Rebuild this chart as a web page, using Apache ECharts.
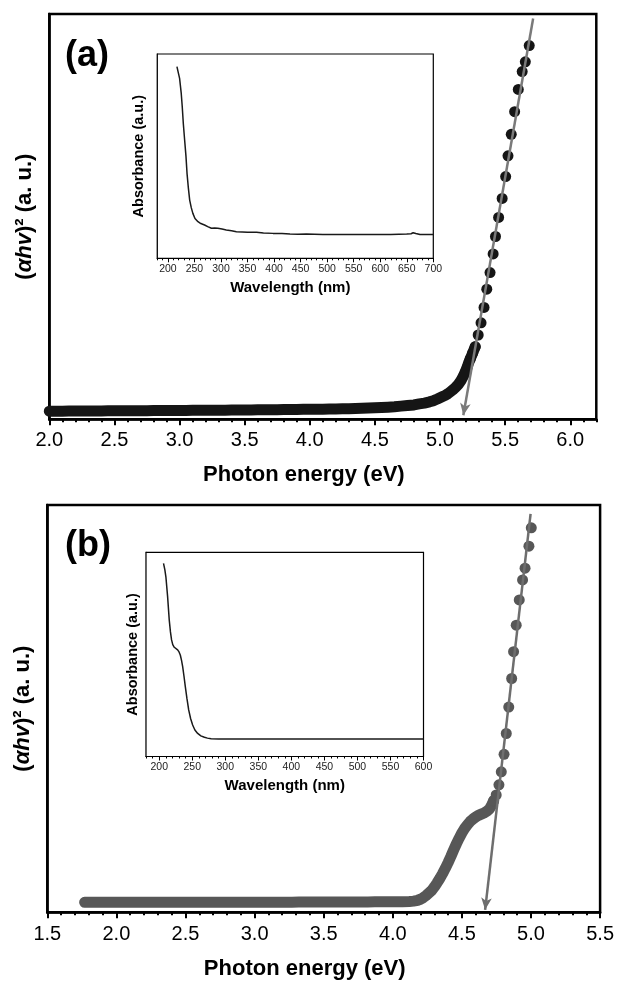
<!DOCTYPE html>
<html><head><meta charset="utf-8">
<script src="https://cdn.jsdelivr.net/npm/echarts@6/dist/echarts.min.js"></script>
<style>html,body{margin:0;padding:0;background:#fff}#c{width:617px;height:982px}</style>
</head><body><div id="c"></div>
<script>
const FONT = '"Liberation Sans", Arial, Helvetica, sans-serif';

// ---------- Panel (a) main: (alpha h v)^2 vs photon energy ----------
// dense (overlapping) part of the data
const bandEnergyA = [2.00,2.05,2.10,2.15,2.20,2.25,2.30,2.35,2.40,2.45,2.50,2.55,2.60,2.65,2.70,2.75,2.80,2.85,2.90,2.95,
  3.00,3.05,3.10,3.15,3.20,3.25,3.30,3.35,3.40,3.45,3.50,3.55,3.60,3.65,3.70,3.75,3.80,3.85,3.90,3.95,
  4.00,4.05,4.10,4.15,4.20,4.25,4.30,4.35,4.40,4.45,4.50,4.55,4.60,4.65,4.70,4.75,4.80,4.84,4.88,4.92,
  4.95,4.98,5.00,5.02,5.04,5.06,5.08,5.10,5.12,5.14,5.16,5.18,5.195,5.21,5.22,5.232,5.25,5.27];
const bandValueA = [2.00,2.00,2.01,2.02,2.03,2.04,2.05,2.06,2.07,2.08,2.09,2.10,2.11,2.12,2.13,2.14,2.15,2.16,2.17,2.18,
  2.19,2.20,2.21,2.22,2.23,2.24,2.25,2.26,2.27,2.28,2.30,2.31,2.33,2.34,2.36,2.37,2.39,2.41,2.43,2.45,
  2.47,2.49,2.51,2.54,2.57,2.60,2.63,2.67,2.71,2.76,2.82,2.90,3.00,3.10,3.25,3.40,3.55,3.80,4.00,4.30,
  4.60,5.00,5.30,5.60,5.90,6.30,6.80,7.30,7.90,8.60,9.50,10.7,11.8,13.0,14.0,14.9,16.3,17.9];
// separated dots along the absorption edge
const dotEnergyA = [5.232,5.25,5.27,5.293,5.315,5.338,5.359,5.384,5.408,5.426,5.450,5.477,5.504,5.522,5.547,5.573,5.601,5.631,5.655,5.685];
const dotValueA = [14.9,16.3,17.9,20.8,23.8,27.6,32.1,36.2,40.8,45.1,49.8,54.5,59.9,65.0,70.3,75.9,81.4,85.8,88.2,92.2];
const fitA_E = [5.715, 5.179];
const fitA_V = [98.9, 1.0];

// ---------- Panel (a) inset: absorbance vs wavelength ----------
const wlA = [217,219,222,225,227,229,231.5,234,236,238.5,241,244,247,251,256.6,262,269,275,282,288,294,302,310,320,329,
  340,350,367,380,398,415,430,445,461,476,492,508,524,555,587,620,650,658,662,667,675,690,700];
const absA = [0.938,0.915,0.881,0.81,0.742,0.66,0.579,0.50,0.416,0.345,0.285,0.248,0.220,0.195,0.179,0.170,0.163,0.155,
  0.147,0.148,0.147,0.143,0.139,0.135,0.130,0.129,0.127,0.127,0.124,0.122,0.121,0.119,0.118,0.119,0.118,0.116,0.117,
  0.116,0.117,0.117,0.117,0.119,0.120,0.125,0.121,0.116,0.117,0.117];

// ---------- Panel (b) main ----------
const bandEnergyB = [1.77,1.82,1.87,1.92,1.97,2.02,2.07,2.12,2.17,2.22,2.27,2.32,2.37,2.42,2.47,2.52,2.57,2.62,2.67,2.72,
  2.77,2.82,2.87,2.92,2.97,3.02,3.07,3.12,3.17,3.22,3.27,3.32,3.37,3.42,3.47,3.52,3.57,3.62,3.67,3.72,
  3.77,3.82,3.87,3.92,3.97,4.02,4.07,4.12,4.15,4.18,4.20,4.22,4.24,4.26,4.28,4.30,4.32,4.34,4.36,4.38,
  4.40,4.42,4.44,4.46,4.48,4.50,4.52,4.54,4.56,4.58,4.60,4.62,4.64,4.66,4.68,4.70,4.715,4.73];
const bandValueB = [2.45,2.45,2.45,2.45,2.45,2.45,2.45,2.45,2.45,2.45,2.45,2.45,2.45,2.45,2.45,2.45,2.46,2.46,2.46,2.46,
  2.46,2.46,2.47,2.47,2.47,2.47,2.48,2.48,2.48,2.49,2.49,2.50,2.50,2.50,2.51,2.51,2.52,2.52,2.53,2.53,
  2.54,2.55,2.56,2.57,2.58,2.60,2.62,2.65,2.75,2.95,3.20,3.60,4.10,4.70,5.30,6.20,7.20,8.30,9.50,10.8,
  12.2,13.7,15.3,16.8,18.2,19.5,20.6,21.5,22.3,22.9,23.4,23.8,24.1,24.4,24.8,25.4,26.3,27.4];
const dotEnergyB = [4.73,4.748,4.768,4.785,4.805,4.821,4.839,4.860,4.874,4.893,4.915,4.939,4.957,4.985,5.002];
const dotValueB = [27.4,28.8,31.3,34.5,38.8,43.9,50.4,57.4,64.0,70.5,76.7,81.6,84.5,89.9,94.4];
const fitB_E = [4.997, 4.668];
const fitB_V = [97.8, 0.6];

// ---------- Panel (b) inset ----------
const wlB = [206.5,208.5,210.1,212.7,215.2,217,218.7,220.5,222.8,225,227.9,230,231.9,233.7,235.5,237.5,239.5,242,244.6,
  247.5,250.6,254,258.2,263,268.4,273,278.6,290,306,350,400,450,500,550,600];
const absB = [0.946,0.915,0.880,0.783,0.668,0.61,0.571,0.548,0.535,0.528,0.522,0.512,0.497,0.472,0.440,0.393,0.342,
  0.283,0.228,0.186,0.154,0.130,0.113,0.101,0.094,0.090,0.087,0.086,0.086,0.086,0.086,0.086,0.086,0.086,0.086];

// ---------- tick labels ----------
const ticksA = [2.0,2.5,3.0,3.5,4.0,4.5,5.0,5.5,6.0];
const ticksB = [1.5,2.0,2.5,3.0,3.5,4.0,4.5,5.0,5.5];
const ticksInsetA = [200,250,300,350,400,450,500,550,600,650,700];
const ticksInsetB = [200,250,300,350,400,450,500,550,600];

const zip = (xs, ys) => xs.map((x, i) => [x, ys[i]]);

function majorX(grid, min, max, ticks, o) {
  return {
    type: 'value', gridIndex: grid, min: min, max: max, position: 'bottom',
    axisLine: {show: true, onZero: false, lineStyle: {color: '#000', width: o.lw}},
    axisTick: {show: true, inside: false, length: o.tl, lineStyle: {color: '#000', width: o.tw}, customValues: ticks},
    axisLabel: {show: true, customValues: ticks, margin: o.margin, fontFamily: FONT, fontSize: o.fs, color: o.lc,
      formatter: v => o.dec ? v.toFixed(1) : String(Math.round(v))},
    splitLine: {show: false},
    name: o.name, nameLocation: 'middle', nameGap: o.nameGap,
    nameTextStyle: {fontFamily: FONT, fontSize: o.nfs, fontWeight: 'bold', color: '#000', padding: o.npad || 0}
  };
}
function minorX(grid, min, max, step, o) {
  return {
    type: 'value', gridIndex: grid, min: min, max: max, interval: step, position: 'bottom',
    axisLine: {show: false, onZero: false},
    axisTick: {show: true, inside: false, length: o.tl, lineStyle: {color: '#000', width: o.tw}},
    axisLabel: {show: false}, splitLine: {show: false}
  };
}
function yAx(grid, o) {
  return {
    type: 'value', gridIndex: grid, min: 0, max: 100,
    axisLine: {show: true, lineStyle: {color: '#000', width: o.lw}},
    axisTick: {show: false}, axisLabel: {show: false}, splitLine: {show: false},
    name: o.name, nameLocation: 'middle', nameGap: o.nameGap,
    nameTextStyle: o.nts
  };
}

const yMainName = {
  fontFamily: FONT, fontSize: 22, fontWeight: 'bold', color: '#000',
  rich: {i: {fontFamily: FONT, fontSize: 22, fontWeight: 'bold', fontStyle: 'italic', color: '#000'}}
};
const yInsetName = {fontFamily: FONT, fontSize: 14.5, fontWeight: 'bold', color: '#000'};

function bandLine(xi, yi, e, v, color) {
  return {type: 'line', xAxisIndex: xi, yAxisIndex: yi, data: zip(e, v), symbol: 'none', showSymbol: false,
    lineStyle: {color: color, width: 11, cap: 'round', join: 'round'}, silent: true, z: 2};
}
function dots(xi, yi, e, v, color) {
  return {type: 'scatter', xAxisIndex: xi, yAxisIndex: yi, data: zip(e, v), symbolSize: 11,
    itemStyle: {color: color, opacity: 1}, silent: true, z: 3};
}
function fitArrow(xi, yi, e, v, color) {
  return {type: 'scatter', xAxisIndex: xi, yAxisIndex: yi, data: [], silent: true, z: 4,
    markLine: {silent: true, animation: false, symbol: ['none', 'arrow'], symbolSize: [8, 12],
      label: {show: false}, lineStyle: {color: color, width: 2.5, type: 'solid', opacity: 1},
      data: [[{coord: [e[0], v[0]]}, {coord: [e[1], v[1]]}]]}};
}
function insetLine(xi, yi, wl, ab) {
  return {type: 'line', xAxisIndex: xi, yAxisIndex: yi, data: zip(wl, ab.map(v => v * 100)), showSymbol: false, symbol: 'none',
    lineStyle: {color: '#1a1a1a', width: 1.5}, silent: true, z: 5};
}

const option = {
  animation: false,
  backgroundColor: '#fff',
  grid: [
    {left: 49.3, top: 14, width: 547, height: 405.3, show: true, borderColor: '#000', borderWidth: 2.5, backgroundColor: 'transparent'},
    {left: 157.3, top: 54, width: 276, height: 204.3, show: true, borderColor: '#000', borderWidth: 1.2, backgroundColor: '#fff', z: 3},
    {left: 47.3, top: 505, width: 553, height: 407.3, show: true, borderColor: '#000', borderWidth: 2.5, backgroundColor: 'transparent'},
    {left: 146, top: 552.3, width: 277.5, height: 204.2, show: true, borderColor: '#000', borderWidth: 1.2, backgroundColor: '#fff', z: 3}
  ],
  xAxis: [
    majorX(0, 2.0, 6.2, ticksA, {lw: 2.5, tl: 6, tw: 2, margin: 11, fs: 20, lc: '#000', dec: true,
      name: 'Photon energy (eV)', nameGap: 45, nfs: 22, npad: [0, 38, 0, 0]}),
    minorX(0, 2.0, 6.2, 0.1, {tl: 3, tw: 2}),
    majorX(1, 180, 700, ticksInsetA, {lw: 1.2, tl: 4, tw: 1, margin: 5, fs: 10.5, lc: '#222', dec: false,
      name: 'Wavelength (nm)', nameGap: 22, nfs: 15, npad: [0, 10, 0, 0]}),
    minorX(1, 180, 700, 10, {tl: 2, tw: 1}),
    majorX(2, 1.5, 5.5, ticksB, {lw: 2.5, tl: 6, tw: 2, margin: 12, fs: 20, lc: '#000', dec: true,
      name: 'Photon energy (eV)', nameGap: 46, nfs: 22, npad: [0, 38, 0, 0]}),
    minorX(2, 1.5, 5.5, 0.1, {tl: 3, tw: 2}),
    majorX(3, 180, 600, ticksInsetB, {lw: 1.2, tl: 4, tw: 1, margin: 5, fs: 10.5, lc: '#222', dec: false,
      name: 'Wavelength (nm)', nameGap: 22, nfs: 15}),
    minorX(3, 180, 600, 10, {tl: 2, tw: 1})
  ],
  yAxis: [
    yAx(0, {lw: 2.5, name: '({i|αhv})² (a. u.)', nameGap: 13, nts: yMainName}),
    yAx(1, {lw: 1.2, name: 'Absorbance (a.u.)', nameGap: 11, nts: yInsetName}),
    yAx(2, {lw: 2.5, name: '({i|αhv})² (a. u.)', nameGap: 13, nts: yMainName}),
    yAx(3, {lw: 1.2, name: 'Absorbance (a.u.)', nameGap: 6, nts: yInsetName})
  ],
  series: [
    bandLine(0, 0, bandEnergyA, bandValueA, '#151515'),
    dots(0, 0, dotEnergyA, dotValueA, '#151515'),
    fitArrow(0, 0, fitA_E, fitA_V, '#7a7a7a'),
    insetLine(2, 1, wlA, absA),
    bandLine(4, 2, bandEnergyB, bandValueB, '#575757'),
    dots(4, 2, dotEnergyB, dotValueB, '#575757'),
    fitArrow(4, 2, fitB_E, fitB_V, '#6e6e6e'),
    insetLine(6, 3, wlB, absB)
  ],
  graphic: [
    {type: 'text', x: 65, y: 56.5, style: {text: '(a)', font: 'bold 36px ' + FONT, fill: '#000', verticalAlign: 'middle'}},
    {type: 'text', x: 65, y: 546, style: {text: '(b)', font: 'bold 36px ' + FONT, fill: '#000', verticalAlign: 'middle'}}
  ]
};

const chart = echarts.init(document.getElementById('c'));
chart.setOption(option);
</script>
</body></html>
